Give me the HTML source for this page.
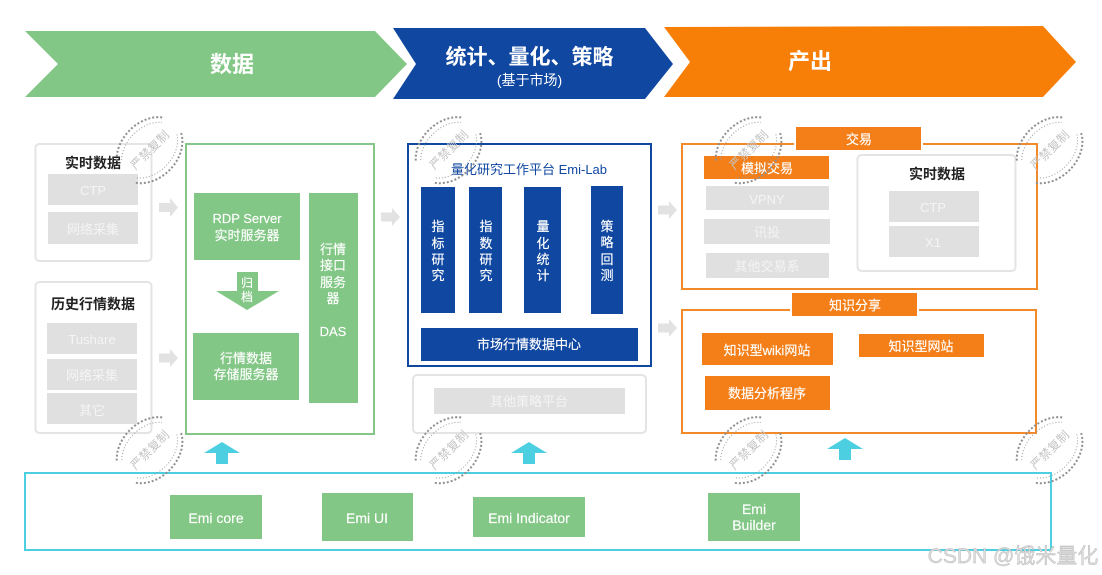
<!DOCTYPE html>
<html><head><meta charset="utf-8"><style>
html,body{margin:0;padding:0;background:#fff}
svg{display:block}
text{font-family:"Liberation Sans","Noto Sans CJK SC",sans-serif;text-anchor:middle}
.w{fill:#fff;font-size:13px;stroke:#fff;stroke-width:.15}
.e{fill:#fff;font-size:14px;stroke:#fff;stroke-width:.15}
.g{fill:#f4f4f4;font-size:13px}
.k{fill:#222;font-size:14px;font-weight:700}
.st{fill:#c4c4c4;font-size:12px;letter-spacing:.3px}
.o{fill:none;stroke:#8f8f8f;stroke-width:2;stroke-dasharray:2 2}
.i{fill:none;stroke:#999;stroke-width:1;stroke-dasharray:1 2}
</style></head><body>
<svg width="1102" height="575" viewBox="0 0 1102 575" xmlns="http://www.w3.org/2000/svg">
<rect width="1102" height="575" fill="#fff"/>
<!-- banners -->
<polygon points="25,31 375,31 407,64 375,97 25,97 58,64" fill="#82c785"/>
<polygon points="393,28 645,28 673,64 645,99 393,99 416,64" fill="#0f47a1"/>
<polygon points="664,27 1043,26 1076,62 1043,97 664,97 690,62" fill="#f77f08"/>
<text x="232" y="72" fill="#fff" style="font-size:22px;font-weight:700">数据</text>
<text x="529.500" y="64" fill="#fff" style="font-size:21px;font-weight:700">统计、量化、策略</text>
<text x="529.500" y="85" fill="#fff" style="font-size:14px">(基于市场)</text>
<text x="810" y="69" fill="#fff" style="font-size:22px;font-weight:700">产出</text>

<!-- left gray boxes -->
<rect x="35.500" y="144" width="116" height="117" rx="4" fill="#fff" stroke="#e4e4e4" stroke-width="2"/>
<text x="93" y="168" class="k">实时数据</text>
<rect x="48" y="174" width="90" height="31" fill="#e0e0e0"/><text x="93" y="195" class="g">CTP</text>
<rect x="48" y="212" width="90" height="32" fill="#e0e0e0"/><text x="93" y="234" class="g">网络采集</text>
<rect x="35.500" y="282" width="116" height="151" rx="4" fill="#fff" stroke="#e4e4e4" stroke-width="2"/>
<text x="93" y="309" class="k">历史行情数据</text>
<rect x="47" y="323" width="90" height="31" fill="#e0e0e0"/><text x="92" y="344" class="g">Tushare</text>
<rect x="47" y="359" width="90" height="31" fill="#e0e0e0"/><text x="92" y="380" class="g">网络采集</text>
<rect x="47" y="393" width="90" height="31" fill="#e0e0e0"/><text x="92" y="415" class="g">其它</text>

<!-- gray arrows -->
<polygon points="159,203 170,203 170,198 178,207.500 170,217 170,212 159,212" fill="#e2e2e2"/>
<polygon points="159,353.500 170,353.500 170,349 178,358 170,367 170,362.500 159,362.500" fill="#e2e2e2"/>
<polygon points="381,212.500 392,212.500 392,208 400,217 392,226 392,221.500 381,221.500" fill="#e2e2e2"/>
<polygon points="658,205.500 669,205.500 669,201 677,210 669,219 669,214.500 658,214.500" fill="#e2e2e2"/>
<polygon points="658,323.500 669,323.500 669,319 677,328 669,337 669,332.500 658,332.500" fill="#e2e2e2"/>

<!-- data panel -->
<rect x="186" y="144" width="188" height="290" fill="#fff" stroke="#85c788" stroke-width="2"/>
<rect x="194" y="193" width="106" height="67" fill="#82c785"/>
<text x="247" y="223" class="w">RDP Server</text><text x="247" y="240" class="w">实时服务器</text>
<polygon points="237,272 258,272 258,291 279,291 247,310 216,291 237,291" fill="#82c785"/>
<text x="247" y="287" class="w" style="font-size:12px">归</text><text x="247" y="301" class="w" style="font-size:12px">档</text>
<rect x="193" y="333" width="106" height="67" fill="#82c785"/>
<text x="246" y="363" class="w">行情数据</text><text x="246" y="379" class="w">存储服务器</text>
<rect x="309" y="193" width="49" height="210" fill="#82c785"/>
<text x="333" y="254" class="w">行情</text><text x="333" y="270" class="w">接口</text><text x="333" y="287" class="w">服务</text><text x="333" y="303" class="w">器</text><text x="333" y="336" class="w">DAS</text>

<!-- blue panel -->
<rect x="408" y="144" width="243" height="222" fill="#fff" stroke="#0f47a1" stroke-width="2"/>
<text x="529" y="174" fill="#0f47a1" style="font-size:13px">量化研究工作平台 Emi-Lab</text>
<rect x="421" y="187" width="34" height="126" fill="#0f47a1"/>
<text x="438" y="231" class="w">指</text><text x="438" y="248" class="w">标</text><text x="438" y="264" class="w">研</text><text x="438" y="280" class="w">究</text>
<rect x="469" y="187" width="33" height="126" fill="#0f47a1"/>
<text x="486" y="231" class="w">指</text><text x="486" y="248" class="w">数</text><text x="486" y="264" class="w">研</text><text x="486" y="280" class="w">究</text>
<rect x="524" y="187" width="37" height="126" fill="#0f47a1"/>
<text x="543" y="231" class="w">量</text><text x="543" y="248" class="w">化</text><text x="543" y="264" class="w">统</text><text x="543" y="280" class="w">计</text>
<rect x="591" y="186" width="32" height="128" fill="#0f47a1"/>
<text x="607" y="231" class="w">策</text><text x="607" y="247" class="w">略</text><text x="607" y="264" class="w">回</text><text x="607" y="280" class="w">测</text>
<rect x="421" y="328" width="217" height="33" fill="#0f47a1"/>
<text x="529" y="349" class="w">市场行情数据中心</text>
<rect x="413" y="375" width="233" height="58" rx="4" fill="#fff" stroke="#e4e4e4" stroke-width="2"/>
<rect x="434" y="388" width="191" height="26" fill="#e0e0e0"/><text x="529" y="406" class="g">其他策略平台</text>

<!-- orange panel 1 -->
<rect x="682" y="144" width="355" height="145" fill="#fff" stroke="#f28a2a" stroke-width="2"/>
<rect x="794" y="125" width="129" height="27" fill="#fff"/>
<rect x="796" y="127" width="125" height="23" fill="#f47f18"/>
<text x="859" y="144" class="w">交易</text>
<rect x="704" y="156" width="125" height="23" fill="#f47f18"/><text x="767" y="173" class="w">模拟交易</text>
<rect x="706" y="186" width="123" height="24" fill="#e0e0e0"/><text x="767" y="204" class="g">VPNY</text>
<rect x="704" y="219" width="126" height="25" fill="#e0e0e0"/><text x="767" y="237" class="g">讯投</text>
<rect x="706" y="253" width="123" height="25" fill="#e0e0e0"/><text x="767" y="271" class="g">其他交易系</text>
<rect x="857.500" y="155" width="158" height="116" rx="4" fill="#fff" stroke="#e4e4e4" stroke-width="2"/>
<text x="937" y="179" class="k">实时数据</text>
<rect x="889" y="191" width="90" height="31" fill="#e0e0e0"/><text x="933" y="212" class="g">CTP</text>
<rect x="889" y="226" width="90" height="31" fill="#e0e0e0"/><text x="933" y="247" class="g">X1</text>

<!-- orange panel 2 -->
<rect x="682" y="310" width="354" height="123" fill="#fff" stroke="#f28a2a" stroke-width="2"/>
<rect x="790" y="291" width="129" height="27" fill="#fff"/>
<rect x="792" y="293" width="125" height="23" fill="#f47f18"/>
<text x="855" y="310" class="w">知识分享</text>
<rect x="702" y="333" width="131" height="32" fill="#f47f18"/><text x="767" y="355" class="w">知识型wiki网站</text>
<rect x="859" y="334" width="125" height="23" fill="#f47f18"/><text x="921" y="351" class="w">知识型网站</text>
<rect x="705" y="376" width="125" height="34" fill="#f47f18"/><text x="767" y="398" class="w">数据分析程序</text>

<!-- cyan arrows -->
<polygon points="222,442 240,453 228,453 228,464 216,464 216,453 204,453" fill="#4dcfe2"/>
<polygon points="529,442 547,453 535,453 535,464 523,464 523,453 511,453" fill="#4dcfe2"/>
<polygon points="845,438 863,449 851,449 851,460 839,460 839,449 827,449" fill="#4dcfe2"/>

<!-- bottom panel -->
<rect x="25" y="473" width="1026" height="77" fill="#fff" stroke="#4dcfe2" stroke-width="2"/>
<rect x="170" y="495" width="92" height="44" fill="#82c785"/><text x="216" y="523" class="e">Emi core</text>
<rect x="322" y="493" width="91" height="48" fill="#82c785"/><text x="367" y="523" class="e">Emi UI</text>
<rect x="473" y="497" width="112" height="40" fill="#82c785"/><text x="529" y="523" class="e">Emi Indicator</text>
<rect x="708" y="493" width="92" height="48" fill="#82c785"/><text x="754" y="514" class="e">Emi</text><text x="754" y="530" class="e">Builder</text>

<!-- stamps -->
<g transform="translate(150,150) rotate(-45)"><path class="o" d="M-31,-16A37,28 0 0 1 32,-14M34,10A37,28 0 0 1 -34,12"/><path class="i" d="M-27,-13A33,24 0 0 1 28,-11M30,8A33,24 0 0 1 -30,9"/><text class="st" y="4">严禁复制</text></g>
<g transform="translate(150,450) rotate(-45)"><path class="o" d="M-31,-16A37,28 0 0 1 32,-14M34,10A37,28 0 0 1 -34,12"/><path class="i" d="M-27,-13A33,24 0 0 1 28,-11M30,8A33,24 0 0 1 -30,9"/><text class="st" y="4">严禁复制</text></g>
<g transform="translate(449,150) rotate(-45)"><path class="o" d="M-31,-16A37,28 0 0 1 32,-14M34,10A37,28 0 0 1 -34,12"/><path class="i" d="M-27,-13A33,24 0 0 1 28,-11M30,8A33,24 0 0 1 -30,9"/><text class="st" y="4">严禁复制</text></g>
<g transform="translate(449,450) rotate(-45)"><path class="o" d="M-31,-16A37,28 0 0 1 32,-14M34,10A37,28 0 0 1 -34,12"/><path class="i" d="M-27,-13A33,24 0 0 1 28,-11M30,8A33,24 0 0 1 -30,9"/><text class="st" y="4">严禁复制</text></g>
<g transform="translate(749,150) rotate(-45)"><path class="o" d="M-31,-16A37,28 0 0 1 32,-14M34,10A37,28 0 0 1 -34,12"/><path class="i" d="M-27,-13A33,24 0 0 1 28,-11M30,8A33,24 0 0 1 -30,9"/><text class="st" y="4">严禁复制</text></g>
<g transform="translate(749,450) rotate(-45)"><path class="o" d="M-31,-16A37,28 0 0 1 32,-14M34,10A37,28 0 0 1 -34,12"/><path class="i" d="M-27,-13A33,24 0 0 1 28,-11M30,8A33,24 0 0 1 -30,9"/><text class="st" y="4">严禁复制</text></g>
<g transform="translate(1050,150) rotate(-45)"><path class="o" d="M-31,-16A37,28 0 0 1 32,-14M34,10A37,28 0 0 1 -34,12"/><path class="i" d="M-27,-13A33,24 0 0 1 28,-11M30,8A33,24 0 0 1 -30,9"/><text class="st" y="4">严禁复制</text></g>
<g transform="translate(1050,450) rotate(-45)"><path class="o" d="M-31,-16A37,28 0 0 1 32,-14M34,10A37,28 0 0 1 -34,12"/><path class="i" d="M-27,-13A33,24 0 0 1 28,-11M30,8A33,24 0 0 1 -30,9"/><text class="st" y="4">严禁复制</text></g>

<!-- watermark -->
<text x="1013" y="563" style="font-size:21px" fill="#dcdcdc" stroke="#b5b5b5" stroke-width="0.4">CSDN @饿米量化</text>
</svg>
</body></html>
